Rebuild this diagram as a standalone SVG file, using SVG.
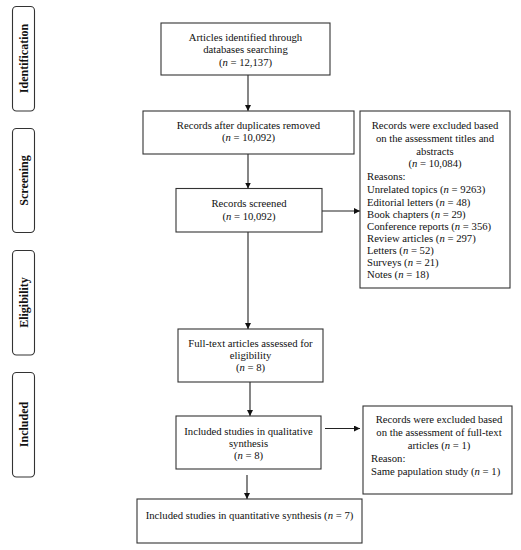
<svg xmlns="http://www.w3.org/2000/svg" width="521" height="550" viewBox="0 0 521 550">
<style>
.box{fill:#fff;stroke:#333;stroke-width:1.1}
.side{fill:#fff;stroke:#333;stroke-width:1.1}
.t{font-family:"Liberation Serif","Times New Roman",serif;font-size:10.7px;fill:#111}
.c{text-anchor:middle}
.s{font-family:"Liberation Serif","Times New Roman",serif;font-size:12px;font-weight:bold;fill:#111;text-anchor:middle}
.ln{stroke:#222;stroke-width:1.1;fill:none}
</style>
<defs>
<marker id="ah" viewBox="0 0 10 10" refX="10" refY="5" markerWidth="6" markerHeight="6" markerUnits="userSpaceOnUse" orient="auto">
<path d="M0,0 L10,5 L0,10 z" fill="#111"/>
</marker>
</defs>
<rect width="521" height="550" fill="#fff"/>
<g id="stage-identification">
<rect class="side" x="12.5" y="6.5" width="22" height="104.5" rx="4"/>
<text class="s" transform="translate(28,58.5) rotate(-90)">Identification</text>
</g>
<g id="stage-screening">
<rect class="side" x="12.5" y="128.5" width="22" height="104" rx="4"/>
<text class="s" transform="translate(28,180.5) rotate(-90)">Screening</text>
</g>
<g id="stage-eligibility">
<rect class="side" x="12.5" y="250.5" width="22" height="104.5" rx="4"/>
<text class="s" transform="translate(28,302.5) rotate(-90)">Eligibility</text>
</g>
<g id="stage-included">
<rect class="side" x="12.5" y="372.5" width="22" height="104.5" rx="4"/>
<text class="s" transform="translate(28,424.5) rotate(-90)">Included</text>
</g>
<g id="connectors">
<line class="ln" x1="248" y1="75" x2="248" y2="111" marker-end="url(#ah)"/>
<line class="ln" x1="248" y1="154" x2="248" y2="188.5" marker-end="url(#ah)"/>
<line class="ln" x1="248" y1="232" x2="248" y2="329" marker-end="url(#ah)"/>
<line class="ln" x1="250" y1="382" x2="250" y2="416" marker-end="url(#ah)"/>
<line class="ln" x1="247" y1="475" x2="247" y2="499" marker-end="url(#ah)"/>
<line class="ln" x1="322" y1="211" x2="360" y2="211" marker-end="url(#ah)"/>
<line class="ln" x1="325" y1="428.5" x2="360" y2="428.5" marker-end="url(#ah)"/>
</g>
<g id="identified">
<rect class="box" x="161" y="23" width="169" height="52"/>
<text class="t c" x="245.5" y="40.5">Articles identified through</text>
<text class="t c" x="245.5" y="53">databases searching</text>
<text class="t c" x="245.5" y="65.5">(<tspan font-style="italic">n</tspan> = 12,137)</text>
</g>
<g id="deduplicated">
<rect class="box" x="143" y="111" width="211" height="43"/>
<text class="t c" x="248.5" y="128.5">Records after duplicates removed</text>
<text class="t c" x="248.5" y="141">(<tspan font-style="italic">n</tspan> = 10,092)</text>
</g>
<g id="screened">
<rect class="box" x="176" y="188.5" width="146" height="43.5"/>
<text class="t c" x="249" y="206.5">Records screened</text>
<text class="t c" x="249" y="219.5">(<tspan font-style="italic">n</tspan> = 10,092)</text>
</g>
<g id="excluded-titles">
<rect class="box" x="360" y="111" width="150" height="177"/>
<text class="t c" x="435" y="128.5">Records were excluded based</text>
<text class="t c" x="435" y="141.5">on the assessment titles and</text>
<text class="t c" x="435" y="154.5">abstracts</text>
<text class="t c" x="435" y="166.5">(<tspan font-style="italic">n</tspan> = 10,084)</text>
<text class="t" x="367" y="179.5">Reasons:</text>
<text class="t" x="367" y="192.5">Unrelated topics (<tspan font-style="italic">n</tspan> = 9263)</text>
<text class="t" x="367" y="206">Editorial letters (<tspan font-style="italic">n</tspan> = 48)</text>
<text class="t" x="367" y="218">Book chapters (<tspan font-style="italic">n</tspan> = 29)</text>
<text class="t" x="367" y="229.5">Conference reports (<tspan font-style="italic">n</tspan> = 356)</text>
<text class="t" x="367" y="241.5">Review articles (<tspan font-style="italic">n</tspan> = 297)</text>
<text class="t" x="367" y="253.5">Letters (<tspan font-style="italic">n</tspan> = 52)</text>
<text class="t" x="367" y="265.5">Surveys (<tspan font-style="italic">n</tspan> = 21)</text>
<text class="t" x="367" y="277.5">Notes (<tspan font-style="italic">n</tspan> = 18)</text>
</g>
<g id="fulltext">
<rect class="box" x="178" y="329" width="145" height="53"/>
<text class="t c" x="250.5" y="347">Full-text articles assessed for</text>
<text class="t c" x="250.5" y="358.5">eligibility</text>
<text class="t c" x="250.5" y="370.5">(<tspan font-style="italic">n</tspan> = 8)</text>
</g>
<g id="qualitative">
<rect class="box" x="176" y="416" width="145" height="53"/>
<text class="t c" x="248.5" y="434.5">Included studies in qualitative</text>
<text class="t c" x="248.5" y="446.5">synthesis</text>
<text class="t c" x="248.5" y="458.5">(<tspan font-style="italic">n</tspan> = 8)</text>
</g>
<g id="excluded-fulltext">
<rect class="box" x="363" y="406" width="149" height="88"/>
<text class="t c" x="439" y="422.5">Records were excluded based</text>
<text class="t c" x="439" y="435.5">on the assessment of full-text</text>
<text class="t c" x="439" y="448.5">articles (<tspan font-style="italic">n</tspan> = 1)</text>
<text class="t" x="371" y="461.5">Reason:</text>
<text class="t" x="371" y="474.5">Same papulation study (<tspan font-style="italic">n</tspan> = 1)</text>
</g>
<g id="quantitative">
<rect class="box" x="137" y="499" width="225" height="44"/>
<text class="t c" x="249.5" y="518.5">Included studies in quantitative synthesis (<tspan font-style="italic">n</tspan> = 7)</text>
</g>
</svg>
